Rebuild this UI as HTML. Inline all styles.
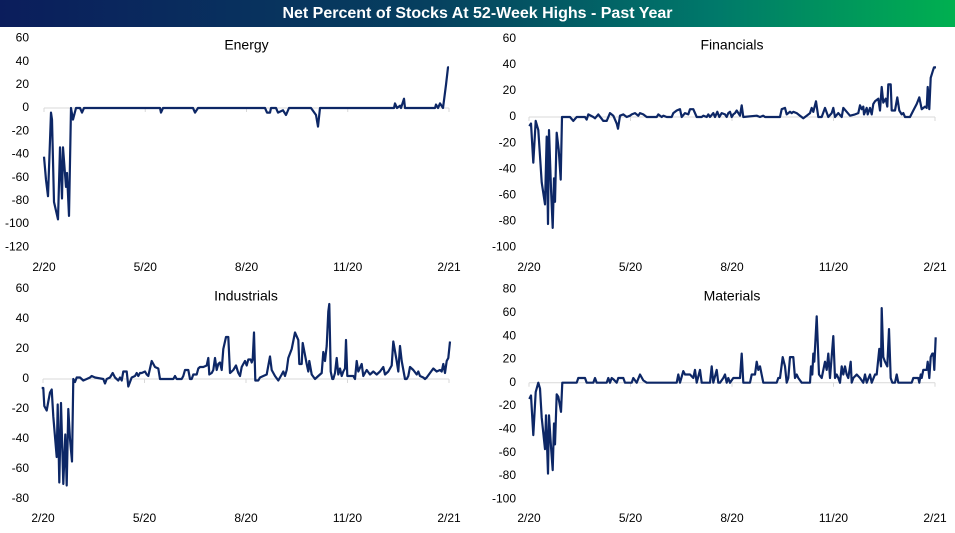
<!DOCTYPE html>
<html><head><meta charset="utf-8"><style>
body{margin:0;background:#fff;width:955px;height:533px;overflow:hidden;font-family:"Liberation Sans",sans-serif}
#hdr{position:absolute;left:0;top:0;width:955px;height:27px;background:linear-gradient(90deg,#0b1d5c 0%,#06405f 45%,#00796a 75%,#00b050 100%);color:#fff;font-weight:bold;font-size:16px;text-align:center;line-height:27px}
svg{position:absolute;left:0;top:0}
text{font-family:"Liberation Sans",sans-serif;fill:#000}
</style></head><body>
<div id="hdr">Net Percent of Stocks At 52-Week Highs - Past Year</div>
<svg id="s" width="955" height="533"></svg>
<script>
const s=document.getElementById('s');let h='';
function T(x,y,t,a,fs){h+=`<text x="${x}" y="${y}" font-size="${fs||12}" text-anchor="${a||'end'}" dominant-baseline="middle">${t}</text>`;}
function chart(o){
 // y labels
 for(let v=o.max;v>=o.min;v-=20){T(o.lx,o.y0-v*o.k,v);}
 h+=`<line x1="${o.x1}" x2="${o.x2}" y1="${o.y0}" y2="${o.y0}" stroke="#d9d9d9" stroke-width="1"/>`;
 const lbl=['2/20','5/20','8/20','11/20','2/21'];
 for(let i=0;i<5;i++){let x=o.x1+(o.x2-o.x1)*i/4;h+=`<line x1="${x}" x2="${x}" y1="${o.y0}" y2="${o.y0+4}" stroke="#d9d9d9"/>`;T(x,o.ly,lbl[i],'middle');}
 T((o.x1+o.x2)/2,o.ty,o.title,'middle',14);
 let pts=o.pts.map(p=>[o.fx(p[0]),o.y0-p[1]*o.k]);
 h+=`<polyline fill="none" stroke="#0d2766" stroke-width="2.2" stroke-linejoin="round" points="${pts.map(p=>p[0].toFixed(1)+','+p[1].toFixed(1)).join(' ')}"/>`;
}
// Energy (pixel x, value)
const E=[[44,-42],[46,-62],[48,-76],[51,-4],[52,-10],[54,-81],[58,-96],[60,-34],[62,-78],[63,-34],[66,-68],[67,-56],[69,-93],[71,0],[73,-10],[76,0],[80,0],[82,-4],[84,0],[160,0],[161,-4],[163,0],[193,0],[195,-4],[198,0],[265,0],[267,-4],[270,-4],[271,0],[276,0],[278,-4],[283,-2],[286,-6],[289,0],[311,0],[316,-6],[318,-16],[320,0],[394,0],[395,4],[397,0],[400,2],[401,0],[404,8],[405,0],[435,0],[436,3],[438,0],[440,4],[443,0],[446,20],[448,35],[449,35]];
chart({title:'Energy',max:60,min:-120,y0:108,k:23.2/20,lx:29,x1:44,x2:449,ly:268,ty:46,fx:x=>x,pts:E});
const F=[[148,-7],[153,-5],[160,-35],[167,-3],[175,-10],[185,-50],[195,-67],[200,-15],[204,-82],[207,-10],[213,-55],[218,-85],[222,-47],[225,-65],[230,-12],[236,-25],[242,-48],[246,0],[260,0],[270,0],[280,-3],[290,0],[315,0],[320,-2],[325,2],[340,0],[345,-1],[355,2],[370,-3],[380,-3],[390,3],[400,1],[410,-5],[414,-9],[420,1],[430,2],[440,0],[450,1],[455,2],[465,3],[475,1],[480,3],[490,2],[500,0],[530,0],[535,2],[545,0],[550,1],[560,0],[575,0],[580,3],[590,5],[600,6],[605,0],[615,3],[625,2],[630,6],[640,6],[650,0],[665,0],[670,1],[680,0],[685,2],[690,0],[700,3],[705,0],[712,4],[718,0],[725,3],[735,2],[740,0],[745,3],[750,4],[755,0],[760,2],[765,3],[770,5],[780,1],[785,9],[790,0],[830,1],[840,0],[850,1],[855,0],[900,0],[905,6],[915,7],[920,2],[930,4],[935,3],[940,4],[950,3],[960,1],[970,-1],[980,1],[990,3],[995,7],[1000,4],[1008,12],[1015,0],[1025,0],[1035,7],[1045,0],[1055,3],[1060,7],[1065,0],[1075,3],[1085,0],[1090,7],[1100,4],[1110,1],[1125,2],[1135,3],[1140,9],[1145,6],[1150,8],[1152,2],[1160,7],[1163,2],[1170,7],[1175,2],[1180,10],[1185,12],[1195,14],[1200,5],[1205,23],[1210,11],[1217,14],[1222,8],[1225,25],[1232,25],[1235,5],[1245,5],[1252,15],[1258,5],[1265,2],[1270,3],[1275,0],[1290,0],[1300,5],[1310,10],[1318,15],[1325,6],[1335,8],[1340,7],[1343,23],[1348,6],[1352,30],[1358,35],[1362,38],[1368,38]];
chart({title:'Financials',max:60,min:-100,y0:117,k:26.1/20,lx:516,x1:529,x2:935,ly:268,ty:46,fx:x=>480+x/3,pts:F});
const I=[[125,-6],[130,-6],[133,-18],[140,-21],[145,-15],[150,-9],[155,-7],[160,-25],[170,-52],[173,-17],[178,-69],[183,-16],[190,-70],[196,-37],[200,-71],[205,-20],[210,-40],[216,-55],[220,0],[225,-2],[230,1],[240,1],[250,-1],[260,0],[270,1],[275,2],[285,1],[310,0],[315,-3],[320,0],[330,1],[338,4],[345,1],[355,-1],[360,1],[365,-1],[370,5],[380,5],[385,-5],[390,-2],[395,1],[405,2],[410,4],[415,2],[420,4],[425,4],[435,5],[440,3],[445,2],[455,12],[465,8],[475,7],[480,0],[490,0],[520,0],[525,2],[530,0],[545,0],[550,2],[555,6],[565,6],[570,0],[575,0],[580,3],[590,3],[595,7],[600,8],[610,8],[620,9],[625,14],[628,3],[635,4],[640,6],[645,14],[650,6],[655,10],[660,11],[665,6],[670,20],[678,28],[685,28],[690,4],[695,5],[700,6],[708,9],[715,4],[720,2],[725,8],[730,10],[735,12],[740,9],[745,13],[752,13],[755,11],[758,13],[762,31],[766,-1],[775,-1],[780,1],[790,2],[800,3],[810,15],[815,6],[825,2],[835,-1],[840,1],[845,3],[850,5],[855,2],[860,6],[865,14],[875,20],[885,31],[895,26],[898,10],[905,10],[908,24],[915,16],[920,10],[925,5],[928,12],[935,3],[945,0],[955,2],[965,4],[970,18],[975,12],[980,22],[985,45],[988,50],[992,5],[997,0],[1000,0],[1005,4],[1010,14],[1015,3],[1020,7],[1025,2],[1030,5],[1035,7],[1038,26],[1042,2],[1060,2],[1065,0],[1070,12],[1075,5],[1085,10],[1090,2],[1100,6],[1110,3],[1120,5],[1130,3],[1140,5],[1150,8],[1155,3],[1165,5],[1175,9],[1180,25],[1190,12],[1195,5],[1200,22],[1205,12],[1215,0],[1220,0],[1225,2],[1230,8],[1240,6],[1250,3],[1255,5],[1260,2],[1270,1],[1275,0],[1280,1],[1290,4],[1300,7],[1310,5],[1320,6],[1325,5],[1330,10],[1335,4],[1340,12],[1345,14],[1350,25]];
chart({title:'Industrials',max:60,min:-80,y0:379,k:1.5,lx:29,x1:43,x2:449,ly:519,ty:297,fx:x=>x/3,pts:I});
const M=[[148,-14],[153,-11],[160,-45],[167,-8],[175,0],[180,-5],[185,-30],[195,-57],[198,-28],[204,-78],[207,-28],[213,-55],[218,-75],[222,-35],[225,-53],[230,-10],[235,-12],[240,-20],[243,-25],[247,0],[290,0],[295,4],[315,4],[320,0],[340,0],[345,4],[350,0],[380,0],[385,4],[390,0],[395,4],[400,3],[410,0],[415,4],[430,4],[435,0],[455,0],[460,4],[470,0],[480,7],[490,2],[500,0],[590,0],[595,7],[600,0],[610,10],[615,7],[630,7],[640,4],[645,11],[650,0],[660,11],[665,0],[690,0],[695,14],[700,0],[710,11],[715,0],[720,0],[730,4],[735,7],[740,0],[745,4],[750,0],[760,4],[775,4],[780,4],[785,25],[790,0],[810,0],[815,7],[825,7],[830,18],[835,11],[840,14],[850,0],[890,0],[895,4],[900,4],[908,22],[915,14],[920,0],[925,4],[930,22],[940,22],[945,4],[950,7],[955,4],[965,0],[990,0],[993,14],[997,7],[1000,25],[1003,18],[1010,57],[1017,7],[1025,4],[1035,18],[1040,11],[1045,25],[1050,4],[1060,40],[1065,4],[1070,7],[1075,4],[1080,0],[1085,14],[1090,7],[1095,14],[1100,7],[1105,4],[1112,18],[1115,0],[1120,4],[1130,7],[1140,4],[1150,0],[1155,7],[1160,0],[1170,7],[1175,0],[1185,7],[1190,7],[1198,29],[1203,14],[1205,64],[1210,22],[1215,18],[1222,14],[1227,46],[1232,4],[1237,0],[1245,0],[1250,7],[1255,0],[1295,0],[1300,4],[1315,4],[1318,0],[1322,7],[1325,4],[1330,11],[1340,11],[1343,18],[1348,4],[1352,22],[1357,25],[1360,25],[1363,11],[1367,39]];
chart({title:'Materials',max:80,min:-100,y0:382.7,k:23.3/20,lx:516,x1:529,x2:935,ly:519,ty:297,fx:x=>480+x/3,pts:M});
s.innerHTML=h;
</script>
</body></html>
